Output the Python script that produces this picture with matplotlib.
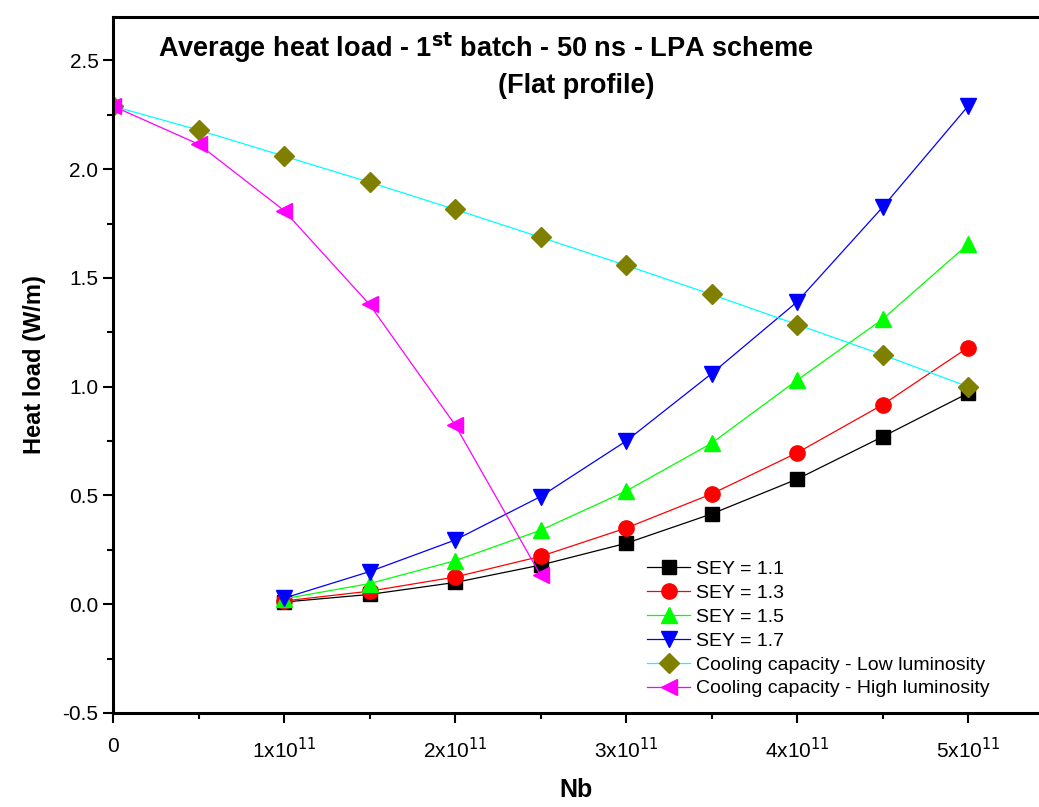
import matplotlib.pyplot as plt
from matplotlib.ticker import MultipleLocator, FixedLocator

plt.rcParams["font.family"] = ["Liberation Sans", "DejaVu Sans"]
plt.rcParams["axes.unicode_minus"] = False

nb = [1e11, 1.5e11, 2e11, 2.5e11, 3e11, 3.5e11, 4e11, 4.5e11, 5e11]
sey11 = [0.01, 0.045, 0.10, 0.18, 0.28, 0.415, 0.575, 0.77, 0.97]
sey13 = [0.015, 0.06, 0.125, 0.22, 0.35, 0.507, 0.696, 0.917, 1.18]
sey15 = [0.025, 0.095, 0.20, 0.34, 0.52, 0.74, 1.03, 1.31, 1.655]
sey17 = [0.028, 0.15, 0.295, 0.495, 0.75, 1.06, 1.39, 1.825, 2.29]

nb_cool = [0, 0.5e11, 1e11, 1.5e11, 2e11, 2.5e11, 3e11, 3.5e11, 4e11, 4.5e11, 5e11]
cool_low = [2.29, 2.18, 2.06, 1.94, 1.815, 1.687, 1.558, 1.424, 1.286, 1.147, 1.0]
nb_high = [0, 0.5e11, 1e11, 1.5e11, 2e11, 2.5e11]
cool_high = [2.29, 2.115, 1.81, 1.378, 0.825, 0.134]

xticks = [0, 1e11, 2e11, 3e11, 4e11, 5e11]
xticklabels = ["0", "1x10$^{11}$", "2x10$^{11}$", "3x10$^{11}$", "4x10$^{11}$", "5x10$^{11}$"]

fig = plt.figure(figsize=(10.39, 8.07), dpi=100)
ax = fig.add_axes([0.1088, 0.1165, 0.8912, 0.8625])

lw = 0.9
ax.plot(nb, sey11, "-s", color="black", ms=10, lw=lw, label="SEY = 1.1")
ax.plot(nb, sey13, "-o", color="red", ms=11, lw=lw, label="SEY = 1.3")
ax.plot(nb, sey15, "-^", color="#00ff00", ms=12, lw=lw, label="SEY = 1.5")
ax.plot(nb, sey17, "-v", color="blue", ms=12, lw=lw, label="SEY = 1.7")
ax.plot(nb_cool, cool_low, "-D", color="cyan", mfc="#808000", mec="#808000",
        ms=10, lw=lw, label="Cooling capacity - Low luminosity")
ax.plot(nb_high, cool_high, "-<", color="magenta", ms=12, lw=lw,
        label="Cooling capacity - High luminosity")

ax.set_xlim(0, 5.415e11)
ax.set_ylim(-0.5, 2.7)
ax.xaxis.set_major_locator(FixedLocator(xticks))
ax.set_xticklabels(xticklabels)
ax.xaxis.set_minor_locator(MultipleLocator(0.5e11))
ax.yaxis.set_major_locator(MultipleLocator(0.5))
ax.yaxis.set_minor_locator(MultipleLocator(0.25))
ax.tick_params(which="major", direction="out", length=7, width=1.5, labelsize=15)
ax.tick_params(which="minor", direction="out", length=4, width=1.5)
ax.tick_params(axis="x", pad=10)

for s in ["left", "bottom", "top"]:
    ax.spines[s].set_linewidth(2.2)
ax.spines["right"].set_visible(False)

ax.set_xlabel("Nb", fontsize=18, fontweight="bold", labelpad=12)
ax.set_ylabel("Heat load (W/m)", fontsize=17, fontweight="bold", labelpad=12)

fig.text(0.468, 0.962, "Average heat load - 1$^{\\mathbf{st}}$ batch - 50 ns - LPA scheme",
         ha="center", va="top", fontsize=19.5, fontweight="bold")
fig.text(0.555, 0.91, "(Flat profile)", ha="center", va="top",
         fontsize=19.5, fontweight="bold")

ax.legend(loc="lower left", bbox_to_anchor=(0.56, 0.0), frameon=False,
          fontsize=14, handlelength=2.2, labelspacing=0.32, borderpad=0.3,
          handletextpad=0.3)

fig.savefig("out.png", dpi=100)
